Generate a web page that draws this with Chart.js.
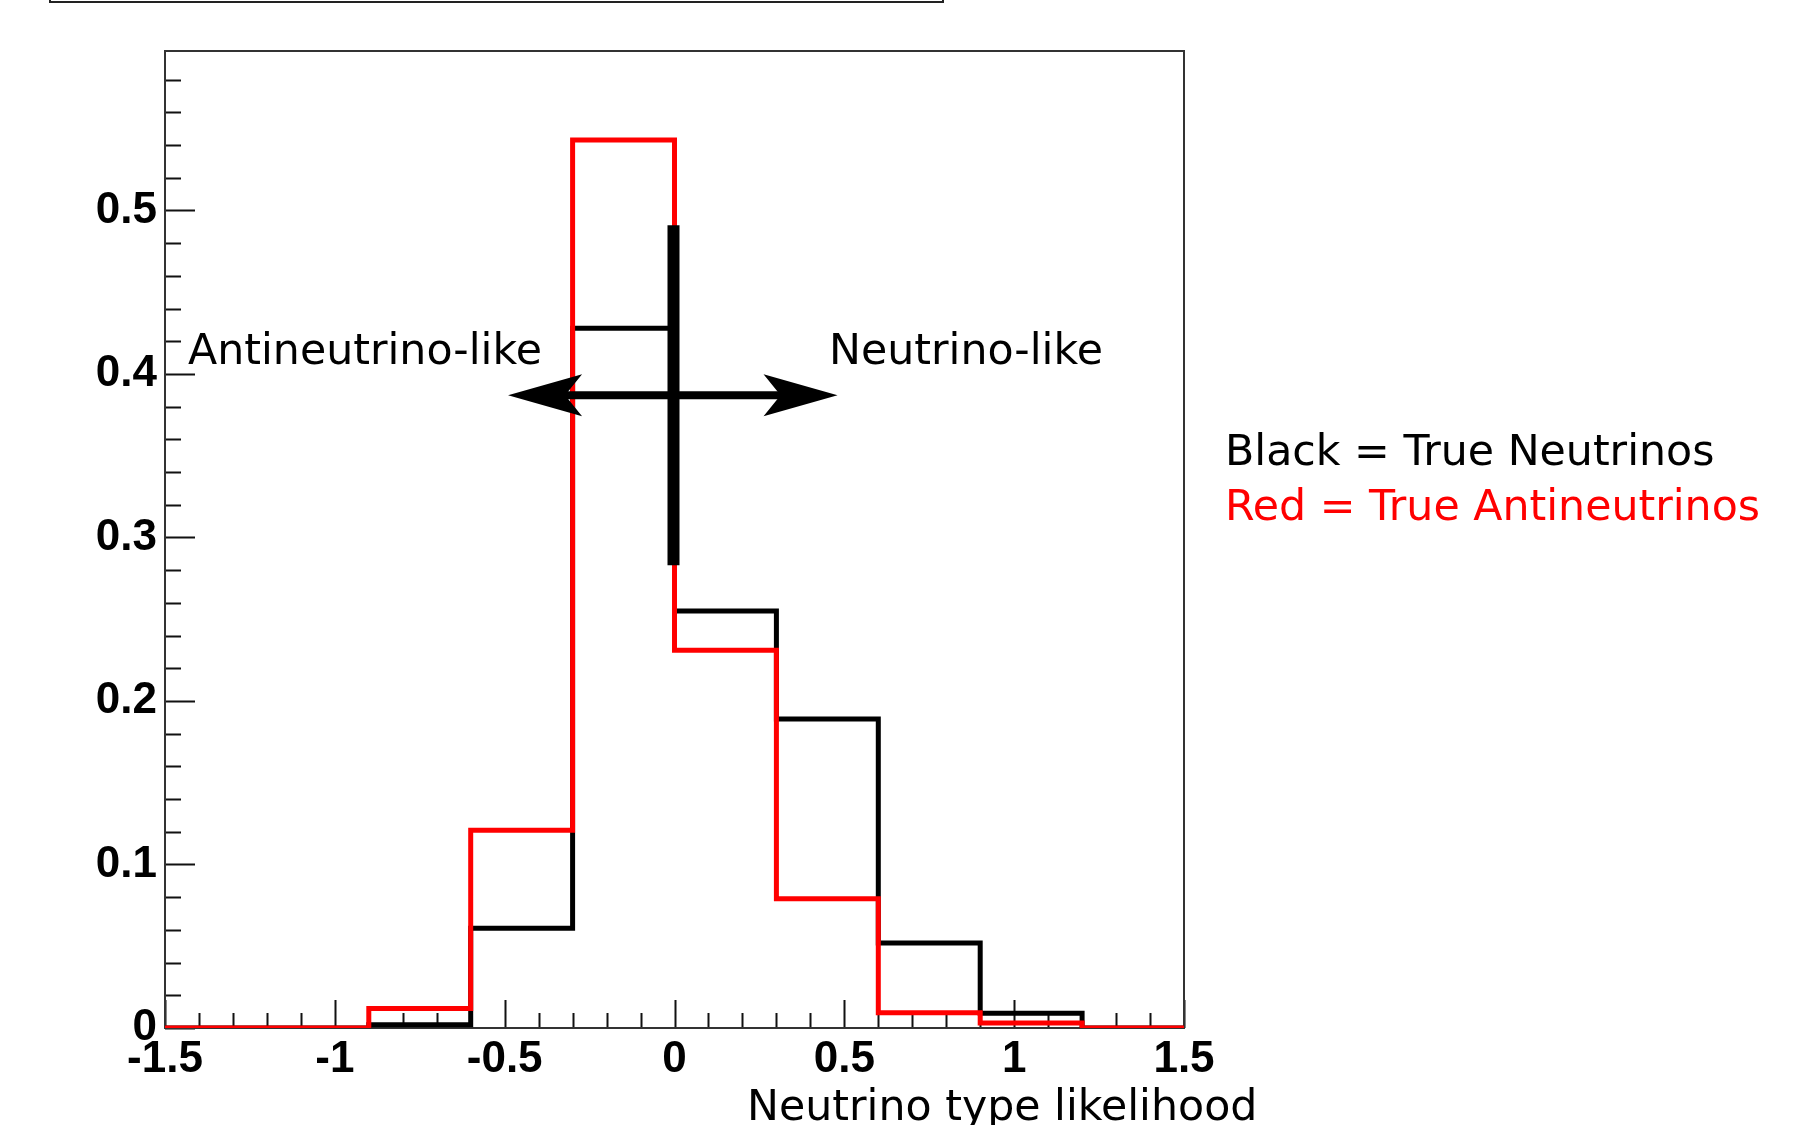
<!DOCTYPE html>
<html>
<head>
<meta charset="utf-8">
<title>Neutrino type likelihood</title>
<script src="https://cdn.jsdelivr.net/npm/chart.js@4.4.0/dist/chart.umd.min.js"></script>
<style>
  html, body { margin: 0; padding: 0; background: #fff; }
  canvas { display: block; }
</style>
</head>
<body>
<canvas id="hist" width="1811" height="1125"></canvas>
<script>
/* ==================
    DATOS
================== */

// bordes de los bins (ancho 0.3)
const binEdges = [-1.5, -1.2, -0.9, -0.6, -0.3, 0, 0.3, 0.6, 0.9, 1.2, 1.5];
// contenido normalizado de cada bin
const trueNeutrinos = [0, 0, 0.002, 0.061, 0.428, 0.255, 0.189, 0.052, 0.009, 0];
const trueAntineutrinos = [0, 0, 0.012, 0.121, 0.543, 0.231, 0.079, 0.0093, 0.003, 0];

const xTickLabels = ['-1.5', '-1', '-0.5', '0', '0.5', '1', '1.5'];
const yTickLabels = ['0', '0.1', '0.2', '0.3', '0.4', '0.5'];

// corte y flechas (en unidades del eje)
const cutX = 0;
const cutRange = [0.283, 0.491];
const arrowY = 0.387;
const arrowRange = [-0.49, 0.48];

// puntos del histograma: un punto por borde izquierdo + el borde final
function histPoints(values) {
    const pts = values.map((v, i) => ({ x: binEdges[i], y: v }));
    pts.push({ x: binEdges[binEdges.length - 1], y: values[values.length - 1] });
    return pts;
}

/* ==================
    MARCO Y TICKS (estilo ROOT)
================== */

const marcoEjes = {
    id: 'marcoEjes',
    beforeDatasetsDraw(chart) {
        const { ctx, chartArea: a, scales: { x, y } } = chart;
        ctx.save();
        ctx.strokeStyle = '#111';
        ctx.lineWidth = 2;
        ctx.beginPath();
        // ticks del eje Y cada 0.02, hacia dentro
        for (let i = 0; i * 0.02 <= y.max; i++) {
            const py = Math.round(y.getPixelForValue(i * 0.02)) + 0.5;
            const len = i % 5 === 0 ? 30 : 16;
            ctx.moveTo(a.left, py);
            ctx.lineTo(a.left + len, py);
        }
        // ticks del eje X cada 0.1
        for (let i = 0; i <= 30; i++) {
            const px = Math.round(x.getPixelForValue(-1.5 + i * 0.1)) + 0.5;
            const len = i % 5 === 0 ? 28 : 15;
            ctx.moveTo(px, a.bottom);
            ctx.lineTo(px, a.bottom - len);
        }
        ctx.stroke();

        ctx.strokeStyle = '#333';
        ctx.lineWidth = 2;
        ctx.strokeRect(a.left, a.top, a.width, a.height);
        ctx.restore();
    }
};

/* ==================
    ANOTACIONES
================== */

const anotaciones = {
    id: 'anotaciones',
    afterDatasetsDraw(chart) {
        const { ctx, scales: { x, y } } = chart;
        ctx.save();
        ctx.fillStyle = '#000';
        ctx.strokeStyle = '#000';

        // linea de corte
        ctx.lineWidth = 12;
        ctx.beginPath();
        ctx.moveTo(x.getPixelForValue(cutX) - 1, y.getPixelForValue(cutRange[0]));
        ctx.lineTo(x.getPixelForValue(cutX) - 1, y.getPixelForValue(cutRange[1]));
        ctx.stroke();

        // flecha doble
        const ay = y.getPixelForValue(arrowY);
        const x1 = x.getPixelForValue(arrowRange[0]);
        const x2 = x.getPixelForValue(arrowRange[1]);
        ctx.lineWidth = 8;
        ctx.beginPath();
        ctx.moveTo(x1 + 50, ay);
        ctx.lineTo(x2 - 50, ay);
        ctx.stroke();
        const punta = (tip, dir) => {
            ctx.beginPath();
            ctx.moveTo(tip, ay);
            ctx.lineTo(tip - dir * 74, ay - 21);
            ctx.lineTo(tip - dir * 57, ay);
            ctx.lineTo(tip - dir * 74, ay + 21);
            ctx.closePath();
            ctx.fill();
        };
        punta(x1, -1);
        punta(x2, 1);

        // textos
        ctx.font = '42.7px "DejaVu Sans"';
        ctx.textAlign = 'left';
        ctx.textBaseline = 'alphabetic';
        ctx.fillText('Antineutrino-like', 188, 364);
        ctx.fillText('Neutrino-like', 829, 364);
        ctx.fillText('Black = True Neutrinos', 1225, 465);
        ctx.fillStyle = '#ff0000';
        ctx.fillText('Red = True Antineutrinos', 1225, 520);
        ctx.fillStyle = '#000';
        ctx.fillText('Neutrino type likelihood', 747, 1120);

        // caja cortada arriba
        ctx.strokeStyle = '#222';
        ctx.lineWidth = 2;
        ctx.strokeRect(50, -20, 893, 22);
        ctx.restore();
    }
};

/* ==================
    GRAFICA
================== */

const ctx = document.getElementById('hist').getContext('2d');
new Chart(ctx, {
    type: 'line',
    data: {
        datasets: [{
            label: 'True Neutrinos',
            data: histPoints(trueNeutrinos),
            borderColor: '#000',
            borderWidth: 5,
            stepped: 'before',
            pointRadius: 0,
            fill: false,
            order: 2
        }, {
            label: 'True Antineutrinos',
            data: histPoints(trueAntineutrinos),
            borderColor: '#ff0000',
            borderWidth: 5,
            stepped: 'before',
            pointRadius: 0,
            fill: false,
            order: 1
        }]
    },
    options: {
        responsive: false,
        devicePixelRatio: 1,
        animation: false,
        layout: { padding: { top: 51, right: 627, left: 0, bottom: 0 } },
        plugins: {
            legend: { display: false },
            tooltip: { enabled: false }
        },
        scales: {
            x: {
                type: 'linear',
                min: -1.5,
                max: 1.5,
                grid: { display: false },
                border: { display: false },
                ticks: {
                    stepSize: 0.5,
                    autoSkip: false,
                    maxRotation: 0,
                    padding: -3,
                    color: '#000',
                    font: { family: 'Liberation Sans', weight: 'bold', size: 44 },
                    callback: (v, i) => xTickLabels[i]
                },
                afterFit: s => { s.height = 97; }
            },
            y: {
                min: 0,
                max: 0.5975,
                grid: { display: false },
                border: { display: false },
                ticks: {
                    stepSize: 0.1,
                    includeBounds: false,
                    padding: 0,
                    color: '#000',
                    font: { family: 'Liberation Sans', weight: 'bold', size: 44 },
                    callback: (v, i) => yTickLabels[i]
                },
                afterFit: s => { s.width = 165; }
            }
        }
    },
    plugins: [marcoEjes, anotaciones]
});
</script>
</body>
</html>
